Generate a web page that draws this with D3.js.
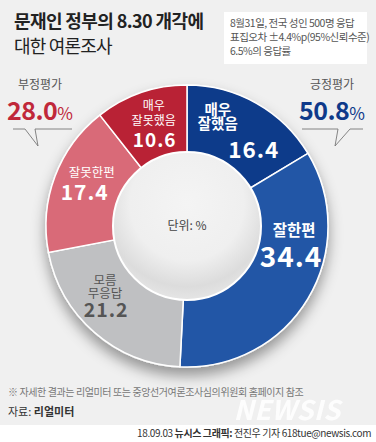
<!DOCTYPE html>
<html>
<head>
<meta charset="utf-8">
<script src="https://cdn.jsdelivr.net/npm/d3@7"></script>
<style>
  body { margin: 0; background: #fff; }
  text { font-family: "Noto Sans CJK KR", "Noto Sans", sans-serif; }
</style>
</head>
<body>
<div id="chart"></div>
<script>
// data
var labels = [["매우", "잘했음"], ["잘한편"], ["모름", "무응답"], ["잘못한편"], ["매우", "잘못했음"]];
var values = [16.4, 34.4, 21.2, 17.4, 10.6];
var colors = ["#0f3a8a", "#2257a6", "#bfc0c2", "#d96b78", "#b92435"];
var positive = 50.8;
var negative = 28.0;
var infoLines = ["8월31일, 전국 성인 500명 응답", "표집오차 ±4.4%p(95%신뢰수준)", "6.5%의 응답률"];

var width = 376, height = 442;
var cx = 187, cy = 226, outerR = 141, innerR = 70;

var svg = d3.select("#chart").append("svg")
    .attr("width", width)
    .attr("height", height);

var defs = svg.append("defs");
var shadow = defs.append("filter").attr("id", "shadow")
    .attr("x", "-30%").attr("y", "-30%").attr("width", "160%").attr("height", "160%");
shadow.append("feDropShadow")
    .attr("dx", 0).attr("dy", 8).attr("stdDeviation", 7)
    .attr("flood-color", "#000").attr("flood-opacity", 0.38);

var grad = defs.append("radialGradient").attr("id", "hole")
    .attr("cx", "50%").attr("cy", "35%").attr("r", "70%");
grad.append("stop").attr("offset", "0%").attr("stop-color", "#f4f4f4");
grad.append("stop").attr("offset", "55%").attr("stop-color", "#efefef");
grad.append("stop").attr("offset", "80%").attr("stop-color", "#dcdcdc");
grad.append("stop").attr("offset", "100%").attr("stop-color", "#eaeaea");

// background
svg.append("rect").attr("width", width).attr("height", 425).attr("fill", "#f0f0f0");

// title
svg.append("text").attr("x", 14).attr("y", 28)
    .attr("font-size", 18).attr("font-weight", "bold").attr("letter-spacing", -0.6)
    .attr("fill", "#222").text("문재인 정부의 8.30 개각에");
svg.append("text").attr("x", 14).attr("y", 53)
    .attr("font-size", 18).attr("letter-spacing", -0.8)
    .attr("fill", "#222").text("대한 여론조사");

// info box
svg.append("rect").attr("x", 224).attr("y", 12).attr("width", 143).attr("height", 52)
    .attr("fill", "#fff");
svg.append("text").attr("class", "info")
    .attr("font-size", 10.5).attr("letter-spacing", -0.5)
    .attr("fill", "#555")
  .selectAll("tspan").data(infoLines).enter().append("tspan")
    .attr("x", 230)
    .attr("y", function(d, i) { return 27 + i * 14; })
    .text(function(d) { return d; });

// donut
var pie = d3.pie().sort(null).value(function(d) { return d; });
var arc = d3.arc().innerRadius(innerR).outerRadius(outerR);
var arcs = pie(values);

var g = svg.append("g").attr("transform", "translate(" + cx + "," + cy + ")");

g.append("g").attr("filter", "url(#shadow)")
  .selectAll("path").data(arcs).enter().append("path")
    .attr("d", arc)
    .attr("fill", function(d, i) { return colors[i]; })
    .attr("stroke", "#fff")
    .attr("stroke-width", 1.5);

g.append("circle").attr("r", innerR + 4)
    .attr("fill", "url(#hole)")
    .attr("stroke", "#fff").attr("stroke-width", 2);

g.append("text").attr("y", 4).attr("text-anchor", "middle")
    .attr("font-size", 12).attr("fill", "#444").text("단위: %");

// segment labels: placed around the arc centroid, nudged like the original
var labelArc = d3.arc().innerRadius(105).outerRadius(105);
var tweak = [
  {dx: -21, dy: -20, lh: 14, name: 14.5, nameW: "bold", ndx: 36, ndy: 43, num: 22.5, color: "#fff"},
  {dx: 17, dy: -44, lh: 14, name: 15.5, nameW: "bold", ndx: -3, ndy: 31, num: 28, color: "#fff"},
  {dx: -13, dy: -20, lh: 13, name: 12.5, nameW: "normal", ndx: 1, ndy: 32, num: 19.5, color: "#555"},
  {dx: 3, dy: -12, lh: 13, name: 12.5, nameW: "normal", ndx: -7, ndy: 23, num: 21, color: "#fff"},
  {dx: 1, dy: -17, lh: 15, name: 12, nameW: "normal", ndx: 1, ndy: 37, num: 19, color: "#fff"}
];

arcs.forEach(function(d, i) {
  var c = labelArc.centroid(d);
  var t = tweak[i];
  var lg = g.append("g")
      .attr("transform", "translate(" + (c[0] + t.dx) + "," + (c[1] + t.dy) + ")")
      .attr("text-anchor", "middle")
      .attr("fill", t.color);
  lg.append("text")
      .attr("font-size", t.name)
      .attr("font-weight", t.nameW)
    .selectAll("tspan").data(labels[i]).enter().append("tspan")
      .attr("x", 0)
      .attr("y", function(s, j) { return j * t.lh; })
      .text(function(s) { return s; });
  lg.append("text")
      .attr("x", t.ndx)
      .attr("y", t.ndy)
      .attr("font-size", t.num)
      .attr("font-weight", "bold")
      .attr("font-family", "Roboto, sans-serif")
      .attr("letter-spacing", 1)
      .text(values[i].toFixed(1));
});

// callouts
function callout(x, label, value, color, line, tail) {
  svg.append("text").attr("x", x).attr("y", 89).attr("text-anchor", "middle")
      .attr("font-size", 12).attr("fill", "#555").text(label);
  var t = svg.append("text").attr("x", x).attr("y", 120).attr("text-anchor", "middle")
      .attr("fill", color).attr("font-weight", "bold")
      .attr("font-family", "Roboto, sans-serif");
  t.append("tspan").attr("font-size", 25).attr("letter-spacing", -0.5).text(value.toFixed(1));
  t.append("tspan").attr("font-size", 17).attr("font-weight", "normal").text("%");
  svg.append("path")
      .attr("d", "M" + line[0] + ",129H" + tail[0] + "L" + tail[1] + ",146L" + tail[2] + ",129H" + line[1])
      .attr("fill", "none").attr("stroke", "#777").attr("stroke-width", 0.9);
}
callout(40, "부정평가", negative, "#c0283a", [13, 72], [25, 38, 35]);
callout(332, "긍정평가", positive, "#0f3a8a", [302, 363], [338, 335, 350]);

// notes
svg.append("text").attr("x", 8).attr("y", 396)
    .attr("font-size", 10).attr("letter-spacing", -0.4).attr("fill", "#777")
    .text("※ 자세한 결과는 리얼미터 또는 중앙선거여론조사심의위원회 홈페이지 참조");
var src = svg.append("text").attr("x", 8).attr("y", 416)
    .attr("font-size", 11).attr("fill", "#333");
src.append("tspan").text("자료: ");
src.append("tspan").attr("font-weight", "bold").text("리얼미터");

// watermark
svg.append("text").attr("x", 287).attr("y", 420).attr("text-anchor", "middle")
    .attr("font-family", "DejaVu Sans, sans-serif")
    .attr("font-size", 27).attr("font-weight", "bold").attr("font-style", "italic")
    .attr("letter-spacing", 0.5)
    .attr("fill", "#fff").attr("opacity", 0.9).text("NEWSIS");

// footer
var ft = svg.append("text").attr("x", 371).attr("y", 437).attr("text-anchor", "end")
    .attr("font-size", 10).attr("letter-spacing", -0.4).attr("fill", "#333");
ft.append("tspan").text("18.09.03 ");
ft.append("tspan").attr("font-weight", "bold").text("뉴시스 그래픽: ");
ft.append("tspan").text("전진우 기자 618tue@newsis.com");
</script>
</body>
</html>
